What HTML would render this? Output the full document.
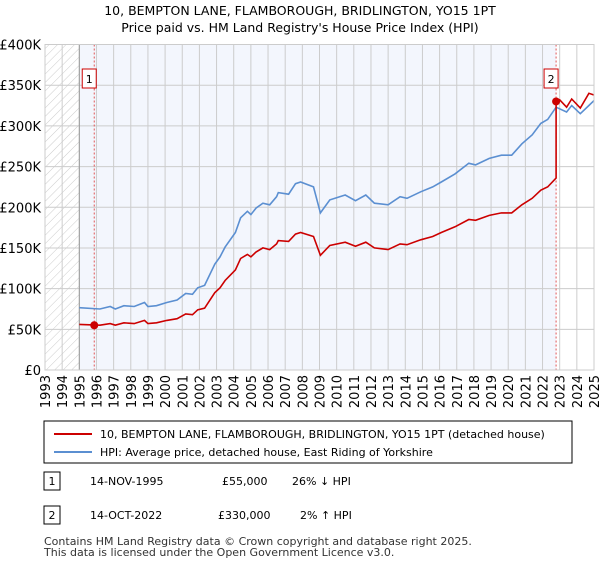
<!DOCTYPE html>
<html><head><meta charset="utf-8"><style>
body{margin:0;background:#fff;font-family:"Liberation Sans","DejaVu Sans",sans-serif;}
svg text{font-family:"DejaVu Sans","Liberation Sans",sans-serif;}
</style></head><body>
<svg id="c" width="600" height="560" xmlns="http://www.w3.org/2000/svg">
<defs><pattern id="hatch" width="6" height="6" patternUnits="userSpaceOnUse" patternTransform="rotate(45)"><line x1="0" y1="0" x2="0" y2="6" stroke="#ccc" stroke-width="1"/></pattern></defs>
<text x="300" y="15" text-anchor="middle" font-size="12.5" fill="#000">10, BEMPTON LANE, FLAMBOROUGH, BRIDLINGTON, YO15 1PT</text>
<text x="300" y="32" text-anchor="middle" font-size="12.5" fill="#000">Price paid vs. HM Land Registry's House Price Index (HPI)</text>
<g id="plot"></g>
<rect x="44" y="421" width="528" height="42" fill="#fff" stroke="#000" stroke-width="1"/>
<line x1="54" y1="434" x2="92" y2="434" stroke="#cc0000" stroke-width="2"/>
<text x="100" y="438" font-size="11">10, BEMPTON LANE, FLAMBOROUGH, BRIDLINGTON, YO15 1PT (detached house)</text>
<line x1="54" y1="452" x2="92" y2="452" stroke="#5b8fd1" stroke-width="2"/>
<text x="100" y="456" font-size="11">HPI: Average price, detached house, East Riding of Yorkshire</text>
<g>
<rect x="44" y="472" width="16" height="18" fill="#fff" stroke="#000"/><text x="52" y="485" text-anchor="middle" font-size="11">1</text>
<text x="90" y="485" font-size="11">14-NOV-1995</text><text x="222" y="485" font-size="11">£55,000</text><text x="292" y="485" font-size="11">26% ↓ HPI</text></g>
<g>
<rect x="44" y="506" width="16" height="18" fill="#fff" stroke="#000"/><text x="52" y="519" text-anchor="middle" font-size="11">2</text>
<text x="90" y="519" font-size="11">14-OCT-2022</text><text x="218" y="519" font-size="11">£330,000</text><text x="300" y="519" font-size="11">2% ↑ HPI</text></g>
<text x="44" y="545" font-size="11" fill="#333">Contains HM Land Registry data © Crown copyright and database right 2025.</text>
<text x="44" y="556" font-size="11" fill="#333">This data is licensed under the Open Government Licence v3.0.</text>
</svg>
<script>
const hpiYears=[1995,1996.2,1996.8,1997.1,1997.6,1998.2,1998.8,1999,1999.5,2000.1,2000.7,2001.2,2001.6,2001.9,2002.3,2002.9,2003.2,2003.5,2004.1,2004.4,2004.8,2005,2005.3,2005.7,2006.1,2006.5,2006.6,2007.2,2007.6,2007.9,2008.65,2009.05,2009.6,2010.5,2011.1,2011.7,2012.2,2013,2013.7,2014.1,2014.9,2015.6,2016.1,2016.9,2017.7,2018.1,2018.9,2019.6,2020.2,2020.8,2021.4,2021.9,2022.3,2022.79,2023.4,2023.7,2024.2,2024.7,2025];
const hpiValues=[76.5,75,78,75,79,78,83,78,79,83,86,94,93,101,104,130,139,151,169,187,195,191,199,205,203,213,218,216,229,231,225,193,209,215,208,215,205,203,213,211,219,225,231,241,254,252,260,264,264,278,289,303,308,323,317,325,315,325,331];
const priceYears=[1995,1996.2,1996.8,1997.1,1997.6,1998.2,1998.8,1999,1999.5,2000.1,2000.7,2001.2,2001.6,2001.9,2002.3,2002.9,2003.2,2003.5,2004.1,2004.4,2004.8,2005,2005.3,2005.7,2006.1,2006.5,2006.6,2007.2,2007.6,2007.9,2008.65,2009.05,2009.6,2010.5,2011.1,2011.7,2012.2,2013,2013.7,2014.1,2014.9,2015.6,2016.1,2016.9,2017.7,2018.1,2018.9,2019.6,2020.2,2020.8,2021.4,2021.9,2022.3,2022.79,2022.79,2023.0,2023.4,2023.7,2024.2,2024.7,2025];
const priceValues=[56,55,57,55,58,57,61,57,58,61,63,69,68,74,76,95,101,110,123,137,142,139,145,150,148,155,159,158,167,169,164,141,153,157,152,157,150,148,155,154,160,164,169,176,185,184,190,193,193,203,211,221,225,236,330,332,323,333,322,340,338];
const saleYears=[1995.87,2022.79];
const saleValues=[55,330];
const saleLabels=["1","2"];
const yTicks=[0,50,100,150,200,250,300,350,400];
const yTickLabels=["£0","£50K","£100K","£150K","£200K","£250K","£300K","£350K","£400K"];
const xTicks=[1993,1994,1995,1996,1997,1998,1999,2000,2001,2002,2003,2004,2005,2006,2007,2008,2009,2010,2011,2012,2013,2014,2015,2016,2017,2018,2019,2020,2021,2022,2023,2024,2025];

const X0=45,X1=594,Y0=370,Y1=44.5;
const xs=y=>X0+(y-1993)/(2025-1993)*(X1-X0);
const ys=v=>Y0-v/400*(Y0-Y1);
const NS="http://www.w3.org/2000/svg";
const g=document.getElementById('plot');
function mk(t,a,p){const e=document.createElementNS(NS,t);for(const k in a)e.setAttribute(k,a[k]);(p||g).appendChild(e);return e;}
let e;
e=mk('rect',{x:X0,y:Y1,width:xs(1995)-X0,height:Y0-Y1,fill:'url(#hatch)'});


e=mk('rect',{x:xs(1995),y:Y1,width:xs(saleYears[1])-xs(1995),height:Y0-Y1,fill:'#f3f6fd'});


for(const t of xTicks){e=mk('line',{x1:xs(t),x2:xs(t),y1:Y1,y2:Y0,stroke:'#ccc','stroke-width':1});

}
yTicks.forEach((t,i)=>{e=mk('line',{x1:X0,x2:X1,y1:ys(t),y2:ys(t),stroke:'#ccc','stroke-width':1});


e=mk('text',{x:X0-4,y:ys(t)+5,'text-anchor':'end','font-size':'13',fill:'#000'});e.textContent=yTickLabels[i];

});
xTicks.forEach(t=>{e=mk('text',{x:0,y:0,'text-anchor':'end','font-size':'13',transform:`translate(${xs(t)+5},375) rotate(-90)`});e.textContent=t;

});
e=mk('line',{x1:xs(1995),x2:xs(1995),y1:Y1,y2:Y0,stroke:'#999'});


saleYears.forEach((y,i)=>{e=mk('line',{x1:xs(y),x2:xs(y),y1:Y1,y2:Y0,stroke:'#e05555','stroke-dasharray':'2,2','stroke-width':1});

});
const path=(xa,va)=>xa.map((y,i)=>(i?'L':'M')+xs(y).toFixed(1)+','+ys(va[i]).toFixed(1)).join('');
e=mk('path',{d:path(hpiYears,hpiValues),fill:'none',stroke:'#5b8fd1','stroke-width':1.6});


e=mk('path',{d:path(priceYears,priceValues),fill:'none',stroke:'#cc0000','stroke-width':1.6});


saleYears.forEach((y,i)=>{e=mk('circle',{cx:xs(y),cy:ys(saleValues[i]),r:4,fill:'#cc0000'});


e=mk('rect',{x:xs(y)-12,y:69,width:14,height:19,fill:'#fff',stroke:'#cc0000'});


e=mk('text',{x:xs(y)-5,y:83,'text-anchor':'middle','font-size':'11'});e.textContent=saleLabels[i];

});
e=mk('rect',{x:X0,y:Y1,width:X1-X0,height:Y0-Y1,fill:'none',stroke:'#ccc'});


</script>
</body></html>
